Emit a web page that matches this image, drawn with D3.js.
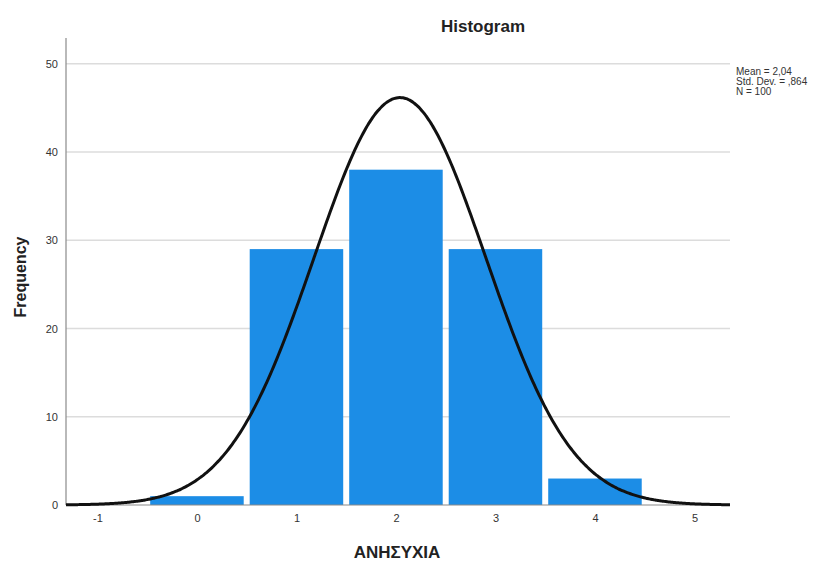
<!DOCTYPE html>
<html>
<head>
<meta charset="utf-8">
<script src="https://cdn.jsdelivr.net/npm/d3@7"></script>
<style>
  html, body { margin: 0; padding: 0; background: #fff; }
  svg { display: block; font-family: "Liberation Sans", Arial, sans-serif; }
</style>
</head>
<body>
<svg id="chart" width="829" height="563"></svg>
<script>
// Histogram of ΑΝΗΣΥΧΙΑ with fitted normal curve
const binCenters = [0, 1, 2, 3, 4];
const frequencies = [1, 29, 38, 29, 3];
const xTicks = [-1, 0, 1, 2, 3, 4, 5];
const yTicks = [0, 10, 20, 30, 40, 50];
const statLines = ["Mean = 2,04", "Std. Dev. = ,864", "N = 100"];
const meanValue = 2.04;
const sdValue = 0.864;
const nValue = 100;

const svg = d3.select("#chart");
const plotLeft = 66, plotRight = 730, plotTop = 38, plotBottom = 505;

const x = d3.scaleLinear().domain([-1.316, 5.357]).range([plotLeft, plotRight]);
const y = d3.scaleLinear().domain([0, 50]).range([plotBottom, 63.8]);

// gridlines
svg.append("g")
  .selectAll("line")
  .data(yTicks.filter(d => d > 0))
  .join("line")
  .attr("x1", plotLeft).attr("x2", plotRight)
  .attr("y1", d => y(d)).attr("y2", d => y(d))
  .attr("stroke", "#dcdcdc").attr("stroke-width", 1.6);

// bars, separated by a thin white gap
const binW = 1;
const gap = 3;
svg.append("g")
  .selectAll("rect")
  .data(binCenters.map((c, i) => ({ c, f: frequencies[i] })))
  .join("rect")
  .attr("x", d => x(d.c - binW / 2) + gap)
  .attr("width", d => x(d.c + binW / 2) - x(d.c - binW / 2) - 2 * gap)
  .attr("y", d => y(d.f))
  .attr("height", d => y(0) - y(d.f))
  .attr("fill", "#1c8de6");

// y axis
const yAxis = svg.append("g")
  .attr("transform", `translate(${plotLeft},0)`)
  .call(d3.axisLeft(y).tickValues(yTicks).tickSize(0).tickPadding(8).tickFormat(d => String(d)));
yAxis.select(".domain").remove();
yAxis.selectAll("text").attr("font-size", 11).attr("fill", "#333").attr("font-family", "Liberation Sans, Arial, sans-serif");
svg.append("line")
  .attr("x1", plotLeft).attr("x2", plotLeft).attr("y1", plotTop).attr("y2", plotBottom)
  .attr("stroke", "#8a8a8a").attr("stroke-width", 1.2);

// x axis
const xAxis = svg.append("g")
  .attr("transform", `translate(0,${plotBottom})`)
  .call(d3.axisBottom(x).tickValues(xTicks).tickSize(0).tickPadding(9).tickFormat(d => String(d)));
xAxis.select(".domain").remove();
xAxis.selectAll("text").attr("font-size", 11).attr("fill", "#333").attr("font-family", "Liberation Sans, Arial, sans-serif");
svg.append("line")
  .attr("x1", plotLeft).attr("x2", plotRight).attr("y1", plotBottom).attr("y2", plotBottom)
  .attr("stroke", "#8a8a8a").attr("stroke-width", 1.2);

// fitted normal curve scaled to counts
const dens = v => nValue * binW / (sdValue * Math.sqrt(2 * Math.PI)) *
  Math.exp(-0.5 * Math.pow((v - meanValue) / sdValue, 2));
const curvePts = d3.range(0, 401).map(i => {
  const v = x.domain()[0] + (x.domain()[1] - x.domain()[0]) * i / 400;
  return [v, dens(v)];
});
svg.append("path")
  .datum(curvePts)
  .attr("fill", "none")
  .attr("stroke", "#111")
  .attr("stroke-width", 3)
  .attr("d", d3.line().x(d => x(d[0])).y(d => y(d[1])).curve(d3.curveBasis));

// title
svg.append("text")
  .attr("x", 483).attr("y", 32)
  .attr("text-anchor", "middle")
  .attr("font-size", 17).attr("font-weight", "bold").attr("fill", "#222")
  .text("Histogram");

// axis titles
svg.append("text")
  .attr("transform", `translate(26,277) rotate(-90)`)
  .attr("text-anchor", "middle")
  .attr("font-size", 16).attr("font-weight", "bold").attr("fill", "#222")
  .text("Frequency");

svg.append("text")
  .attr("x", 397).attr("y", 558)
  .attr("text-anchor", "middle")
  .attr("font-size", 17).attr("font-weight", "bold").attr("fill", "#222")
  .text("ΑΝΗΣΥΧΙΑ");

// summary statistics
svg.append("g")
  .selectAll("text")
  .data(statLines)
  .join("text")
  .attr("x", 736)
  .attr("y", (d, i) => 75 + i * 10)
  .attr("font-size", 10).attr("fill", "#333")
  .text(d => d);
</script>
</body>
</html>
